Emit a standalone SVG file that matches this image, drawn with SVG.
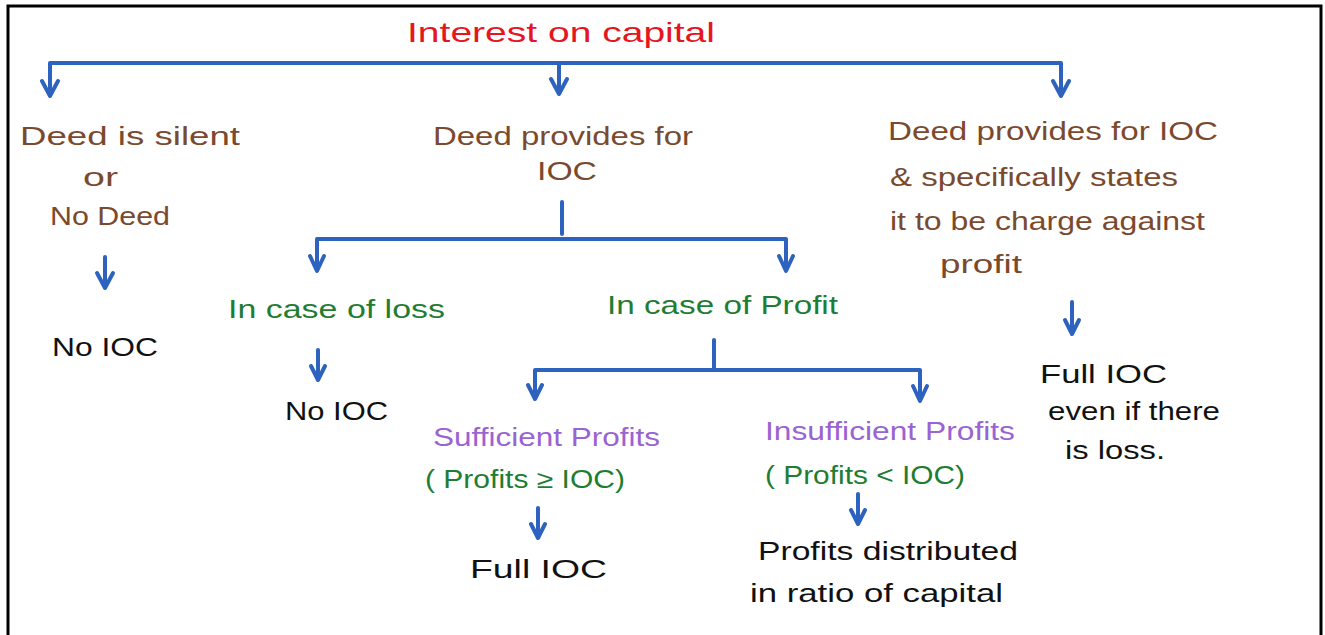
<svg xmlns="http://www.w3.org/2000/svg" width="1325" height="635" viewBox="0 0 1325 635">
<style>
text{font-family:"Liberation Sans","DejaVu Sans",sans-serif;font-size:25px;}
.red{fill:#e5161e;font-size:28px;}
.brown{fill:#7b4a2e;}
.green{fill:#1f7d33;}
.purple{fill:#9a63d2;}
.black{fill:#111;}
.ln{fill:none;stroke:#2d63bf;stroke-width:4;stroke-linecap:round;stroke-linejoin:round;}
</style>
<rect x="0" y="0" width="1325" height="635" fill="#fff"/>
<rect x="8" y="6" width="1313" height="640" fill="none" stroke="#000" stroke-width="3"/>
<g id="connectors">
<path class="ln" d="M50 95 V63 H1061 V95 M559 63 V93"/>
<path class="ln" d="M42 81 L50 96 L58 81 M551 79 L559 94 L567 79 M1053 81 L1061 96 L1069 81"/>
<path class="ln" d="M105 257 V287 M97 273 L105 288 L113 273"/>
<path class="ln" d="M562 202 V234 M317 270 V239 H786 V270 M310 256 L317 271 L324 256 M779 256 L786 271 L793 256"/>
<path class="ln" d="M318 350 V379 M311 366 L318 380 L325 366"/>
<path class="ln" d="M714 340 V368 M535 398 V370 H920 V400 M528 385 L535 399 L542 385 M913 386 L920 401 L927 386"/>
<path class="ln" d="M538 508 V537 M531 524 L538 538 L545 524"/>
<path class="ln" d="M858 494 V523 M851 510 L858 524 L865 510"/>
<path class="ln" d="M1072 302 V333 M1065 320 L1072 334 L1079 320"/>
</g>
<g id="title"><text class="red" x="407" y="42" textLength="308" lengthAdjust="spacingAndGlyphs">Interest on capital</text></g>
<g id="node-silent">
<text class="brown" x="20" y="145" textLength="220" lengthAdjust="spacingAndGlyphs">Deed is silent</text>
<text class="brown" x="83" y="186" textLength="35" lengthAdjust="spacingAndGlyphs">or</text>
<text class="brown" x="50" y="225" textLength="120" lengthAdjust="spacingAndGlyphs">No Deed</text>
</g>
<g id="node-no-ioc-1"><text class="black" x="52" y="356" textLength="106" lengthAdjust="spacingAndGlyphs">No IOC</text></g>
<g id="node-provides">
<text class="brown" x="433" y="145" textLength="260" lengthAdjust="spacingAndGlyphs">Deed provides for</text>
<text class="brown" x="537" y="180" textLength="60" lengthAdjust="spacingAndGlyphs">IOC</text>
</g>
<g id="node-loss"><text class="green" x="228" y="318" textLength="217" lengthAdjust="spacingAndGlyphs">In case of loss</text></g>
<g id="node-no-ioc-2"><text class="black" x="285" y="420" textLength="103" lengthAdjust="spacingAndGlyphs">No IOC</text></g>
<g id="node-profit"><text class="green" x="607" y="314" textLength="231" lengthAdjust="spacingAndGlyphs">In case of Profit</text></g>
<g id="node-sufficient">
<text class="purple" x="433" y="446" textLength="227" lengthAdjust="spacingAndGlyphs">Sufficient Profits</text>
<text class="green" x="425" y="488" textLength="200" lengthAdjust="spacingAndGlyphs">( Profits ≥ IOC)</text>
</g>
<g id="node-full-ioc"><text class="black" x="470" y="578" textLength="137" lengthAdjust="spacingAndGlyphs">Full IOC</text></g>
<g id="node-insufficient">
<text class="purple" x="765" y="440" textLength="250" lengthAdjust="spacingAndGlyphs">Insufficient Profits</text>
<text class="green" x="765" y="484" textLength="200" lengthAdjust="spacingAndGlyphs">( Profits &lt; IOC)</text>
</g>
<g id="node-distributed">
<text class="black" x="758" y="560" textLength="260" lengthAdjust="spacingAndGlyphs">Profits distributed</text>
<text class="black" x="750" y="602" textLength="253" lengthAdjust="spacingAndGlyphs">in ratio of capital</text>
</g>
<g id="node-charge">
<text class="brown" x="888" y="140" textLength="330" lengthAdjust="spacingAndGlyphs">Deed provides for IOC</text>
<text class="brown" x="890" y="186" textLength="288" lengthAdjust="spacingAndGlyphs">&amp; specifically states</text>
<text class="brown" x="890" y="230" textLength="315" lengthAdjust="spacingAndGlyphs">it to be charge against</text>
<text class="brown" x="940" y="273" textLength="82" lengthAdjust="spacingAndGlyphs">profit</text>
</g>
<g id="node-full-ioc-loss">
<text class="black" x="1040" y="383" textLength="127" lengthAdjust="spacingAndGlyphs">Full IOC</text>
<text class="black" x="1048" y="420" textLength="172" lengthAdjust="spacingAndGlyphs">even if there</text>
<text class="black" x="1065" y="459" textLength="100" lengthAdjust="spacingAndGlyphs">is loss.</text>
</g>
</svg>
